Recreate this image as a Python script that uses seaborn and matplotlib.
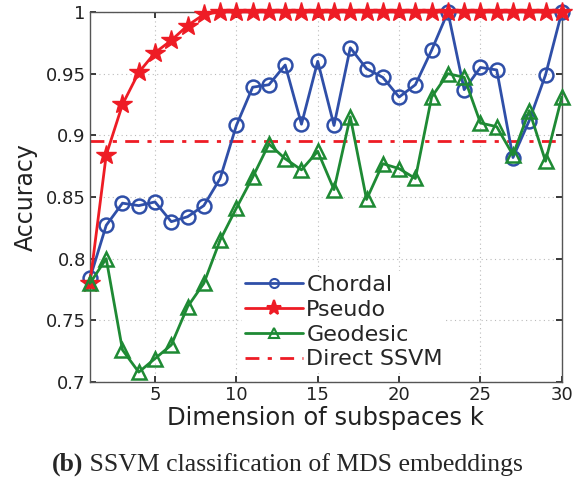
import numpy as np
import pandas as pd
import matplotlib
matplotlib.use("Agg")
import matplotlib.pyplot as plt
import seaborn as sns

k = list(range(1, 31))
chordal = [0.784, 0.827, 0.845, 0.843, 0.846, 0.830, 0.834, 0.843, 0.865, 0.908,
           0.939, 0.941, 0.957, 0.909, 0.960, 0.908, 0.971, 0.954, 0.947, 0.931,
           0.941, 0.969, 1.000, 0.937, 0.955, 0.953, 0.882, 0.912, 0.949, 1.000]
pseudo = [0.780, 0.884, 0.925, 0.951, 0.967, 0.977, 0.989, 0.998, 1.0, 1.0,
          1.0, 1.0, 1.0, 1.0, 1.0, 1.0, 1.0, 1.0, 1.0, 1.0,
          1.0, 1.0, 1.0, 1.0, 1.0, 1.0, 1.0, 1.0, 1.0, 1.0]
geodesic = [0.780, 0.800, 0.726, 0.708, 0.719, 0.730, 0.761, 0.780, 0.815, 0.841,
            0.866, 0.893, 0.881, 0.872, 0.887, 0.856, 0.915, 0.848, 0.877, 0.873,
            0.865, 0.931, 0.950, 0.947, 0.910, 0.907, 0.884, 0.920, 0.879, 0.931]
direct_ssvm = 0.8957

series_names = ["Chordal", "Pseudo", "Geodesic"]
xticks = [5, 10, 15, 20, 25, 30]
yticks = [0.7, 0.75, 0.8, 0.85, 0.9, 0.95, 1.0]
ytick_labels = ["0.7", "0.75", "0.8", "0.85", "0.9", "0.95", "1"]

df = pd.DataFrame({"k": k * 3,
                   "acc": chordal + pseudo + geodesic,
                   "method": ["Chordal"] * 30 + ["Pseudo"] * 30 + ["Geodesic"] * 30})

sns.set_theme(style="white")
plt.rcParams["font.family"] = ["DejaVu Sans"]

fig = plt.figure(figsize=(5.84, 4.79), dpi=100)
ax = fig.add_axes([0.154, 0.2025, 0.808, 0.7725])

blue = "#2f4fa8"
red = "#ee1c25"
green = "#1e8a34"
styles = {
    "Chordal": dict(color=blue, marker="o", ms=10, mfc="none", mec=blue, mew=1.8, lms=6.5),
    "Pseudo": dict(color=red, marker="*", ms=15, mfc=red, mec=red, mew=1.0, lms=11),
    "Geodesic": dict(color=green, marker="^", ms=10, mfc="none", mec=green, mew=1.8, lms=7),
}
handles = []
for name in series_names:
    st = styles[name]
    sub = df[df["method"] == name]
    sns.lineplot(data=sub, x="k", y="acc", ax=ax, color=st["color"], lw=2.0,
                 marker=st["marker"], markersize=st["ms"], markerfacecolor=st["mfc"],
                 markeredgecolor=st["mec"], markeredgewidth=st["mew"], label=None,
                 legend=False, clip_on=False, zorder=3)
    h, = ax.plot([], [], color=st["color"], lw=2.0, marker=st["marker"],
                 markersize=st["lms"], markerfacecolor=st["mfc"],
                 markeredgecolor=st["mec"], markeredgewidth=1.5, label=name)
    handles.append(h)

hl = ax.axhline(direct_ssvm, color=red, lw=2.0, ls=(0, (5, 3, 1.5, 3)), label="Direct SSVM")
handles.append(hl)

ax.set_xlim(1, 30)
ax.set_ylim(0.7, 1.0)
ax.set_xticks(xticks)
ax.set_yticks(yticks)
ax.set_yticklabels(ytick_labels)
ax.tick_params(direction="in", length=4, labelsize=13, colors="#222222",
               top=True, right=True, bottom=True, left=True, pad=3)
ax.grid(True, ls=(0, (1, 3)), color="#bbbbbb", lw=0.8)
for sp in ax.spines.values():
    sp.set_color("#555555")
    sp.set_linewidth(1.0)
ax.set_xlabel("Dimension of subspaces k", fontsize=17.5, color="#222222", labelpad=1)
ax.set_ylabel("Accuracy", fontsize=17, color="#222222", labelpad=6)

leg = ax.legend(handles=handles, loc="lower left", bbox_to_anchor=(0.322, 0.025),
                fontsize=16, frameon=True, facecolor="white", edgecolor="none",
                framealpha=1.0, handlelength=2.6, handletextpad=0.15,
                labelspacing=0.22, borderpad=0.15, borderaxespad=0.0)
leg.set_zorder(5)

t1 = fig.text(0.089, 0.018, "(b)", fontsize=18.5, fontweight="bold",
              family="Liberation Serif", ha="left", va="baseline")
ax.annotate(" SSVM classification of MDS embeddings", xy=(1, 0), xycoords=t1,
            fontsize=18.5, family="Liberation Serif", ha="left", va="bottom",
            annotation_clip=False)

fig.savefig("out.png", dpi=100)
